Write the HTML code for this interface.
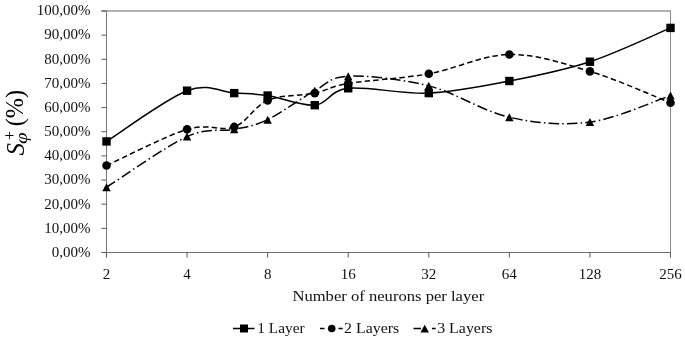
<!DOCTYPE html>
<html><head><meta charset="utf-8"><style>
html,body{margin:0;padding:0;background:#fff;}
body{width:685px;height:338px;overflow:hidden;}
svg{display:block;filter:blur(0.4px);}
.t{font-family:"Liberation Serif",serif;font-size:15px;fill:#111;}
.yt{font-family:"Liberation Serif",serif;fill:#000;}
</style></head><body>
<svg width="685" height="338" viewBox="0 0 685 338">
<line x1="101.5" y1="11" x2="671.0" y2="11" stroke="#666" stroke-width="1"/>
<line x1="670.5" y1="11" x2="670.5" y2="257.5" stroke="#888" stroke-width="1"/>
<line x1="106.5" y1="11.0" x2="106.5" y2="257.5" stroke="#777" stroke-width="1"/>
<line x1="101.5" y1="252.5" x2="670.5" y2="252.5" stroke="#707070" stroke-width="1.2"/>
<line x1="101.5" y1="252.50" x2="106.5" y2="252.50" stroke="#595959" stroke-width="1"/>
<text x="90.6" y="256.80" text-anchor="end" class="t">0,00%</text>
<line x1="101.5" y1="228.35" x2="106.5" y2="228.35" stroke="#595959" stroke-width="1"/>
<text x="90.6" y="232.65" text-anchor="end" class="t">10,00%</text>
<line x1="101.5" y1="204.20" x2="106.5" y2="204.20" stroke="#595959" stroke-width="1"/>
<text x="90.6" y="208.50" text-anchor="end" class="t">20,00%</text>
<line x1="101.5" y1="180.05" x2="106.5" y2="180.05" stroke="#595959" stroke-width="1"/>
<text x="90.6" y="184.35" text-anchor="end" class="t">30,00%</text>
<line x1="101.5" y1="155.90" x2="106.5" y2="155.90" stroke="#595959" stroke-width="1"/>
<text x="90.6" y="160.20" text-anchor="end" class="t">40,00%</text>
<line x1="101.5" y1="131.75" x2="106.5" y2="131.75" stroke="#595959" stroke-width="1"/>
<text x="90.6" y="136.05" text-anchor="end" class="t">50,00%</text>
<line x1="101.5" y1="107.60" x2="106.5" y2="107.60" stroke="#595959" stroke-width="1"/>
<text x="90.6" y="111.90" text-anchor="end" class="t">60,00%</text>
<line x1="101.5" y1="83.45" x2="106.5" y2="83.45" stroke="#595959" stroke-width="1"/>
<text x="90.6" y="87.75" text-anchor="end" class="t">70,00%</text>
<line x1="101.5" y1="59.30" x2="106.5" y2="59.30" stroke="#595959" stroke-width="1"/>
<text x="90.6" y="63.60" text-anchor="end" class="t">80,00%</text>
<line x1="101.5" y1="35.15" x2="106.5" y2="35.15" stroke="#595959" stroke-width="1"/>
<text x="90.6" y="39.45" text-anchor="end" class="t">90,00%</text>
<line x1="101.5" y1="11.00" x2="106.5" y2="11.00" stroke="#595959" stroke-width="1"/>
<text x="90.6" y="15.30" text-anchor="end" class="t">100,00%</text>
<line x1="106.50" y1="252.5" x2="106.50" y2="257.5" stroke="#595959" stroke-width="1"/>
<text x="106.50" y="278.8" text-anchor="middle" class="t">2</text>
<line x1="187.07" y1="252.5" x2="187.07" y2="257.5" stroke="#595959" stroke-width="1"/>
<text x="187.07" y="278.8" text-anchor="middle" class="t">4</text>
<line x1="267.64" y1="252.5" x2="267.64" y2="257.5" stroke="#595959" stroke-width="1"/>
<text x="267.64" y="278.8" text-anchor="middle" class="t">8</text>
<line x1="348.21" y1="252.5" x2="348.21" y2="257.5" stroke="#595959" stroke-width="1"/>
<text x="348.21" y="278.8" text-anchor="middle" class="t">16</text>
<line x1="428.79" y1="252.5" x2="428.79" y2="257.5" stroke="#595959" stroke-width="1"/>
<text x="428.79" y="278.8" text-anchor="middle" class="t">32</text>
<line x1="509.36" y1="252.5" x2="509.36" y2="257.5" stroke="#595959" stroke-width="1"/>
<text x="509.36" y="278.8" text-anchor="middle" class="t">64</text>
<line x1="589.93" y1="252.5" x2="589.93" y2="257.5" stroke="#595959" stroke-width="1"/>
<text x="589.93" y="278.8" text-anchor="middle" class="t">128</text>
<line x1="670.50" y1="252.5" x2="670.50" y2="257.5" stroke="#595959" stroke-width="1"/>
<text x="670.50" y="278.8" text-anchor="middle" class="t">256</text>
<text x="292.4" y="301" class="t" textLength="191.8" lengthAdjust="spacingAndGlyphs">Number of neurons per layer</text>
<path d="M106.50,141.41 C119.93,132.96 165.79,98.74 187.07,90.69 C208.36,82.64 220.77,92.31 234.20,93.11 C247.63,93.92 254.21,93.51 267.64,95.53 C281.07,97.54 301.35,106.39 314.77,105.19 C328.20,103.98 329.21,90.29 348.21,88.28 C367.22,86.27 401.93,94.32 428.79,93.11 C455.64,91.90 482.50,86.27 509.36,81.03 C536.21,75.80 563.07,70.57 589.93,61.72 C616.79,52.86 657.07,33.54 670.50,27.91" fill="none" stroke="#000" stroke-width="1.5"/>
<path d="M106.50,165.56 C119.93,159.52 165.79,135.77 187.07,129.33 C208.36,122.89 220.77,131.75 234.20,126.92 C247.63,122.09 254.21,105.99 267.64,100.35 C281.07,94.72 301.35,95.93 314.77,93.11 C328.20,90.29 329.21,86.67 348.21,83.45 C367.22,80.23 401.93,78.62 428.79,73.79 C455.64,68.96 482.50,54.87 509.36,54.47 C536.21,54.07 563.07,63.33 589.93,71.38 C616.79,79.42 657.07,97.54 670.50,102.77" fill="none" stroke="#000" stroke-width="1.5" stroke-dasharray="5.5 3.2"/>
<path d="M106.50,187.30 C119.93,178.84 165.79,146.24 187.07,136.58 C208.36,126.92 220.77,132.15 234.20,129.33 C247.63,126.52 254.21,126.12 267.64,119.68 C281.07,113.24 301.35,97.94 314.77,90.69 C328.20,83.45 329.21,77.01 348.21,76.21 C367.22,75.40 401.93,79.02 428.79,85.87 C455.64,92.71 482.50,111.22 509.36,117.26 C536.21,123.30 563.07,125.71 589.93,122.09 C616.79,118.47 657.07,99.95 670.50,95.53" fill="none" stroke="#000" stroke-width="1.5" stroke-dasharray="10.5 3.2 1.5 3.2"/>
<rect x="102.30" y="137.21" width="8.4" height="8.4" fill="#000"/>
<rect x="182.87" y="86.49" width="8.4" height="8.4" fill="#000"/>
<rect x="230.00" y="88.91" width="8.4" height="8.4" fill="#000"/>
<rect x="263.44" y="91.33" width="8.4" height="8.4" fill="#000"/>
<rect x="310.57" y="100.98" width="8.4" height="8.4" fill="#000"/>
<rect x="344.01" y="84.08" width="8.4" height="8.4" fill="#000"/>
<rect x="424.59" y="88.91" width="8.4" height="8.4" fill="#000"/>
<rect x="505.16" y="76.83" width="8.4" height="8.4" fill="#000"/>
<rect x="585.73" y="57.52" width="8.4" height="8.4" fill="#000"/>
<rect x="666.30" y="23.71" width="8.4" height="8.4" fill="#000"/>
<circle cx="106.50" cy="165.56" r="4.3" fill="#000"/>
<circle cx="187.07" cy="129.33" r="4.3" fill="#000"/>
<circle cx="234.20" cy="126.92" r="4.3" fill="#000"/>
<circle cx="267.64" cy="100.35" r="4.3" fill="#000"/>
<circle cx="314.77" cy="93.11" r="4.3" fill="#000"/>
<circle cx="348.21" cy="83.45" r="4.3" fill="#000"/>
<circle cx="428.79" cy="73.79" r="4.3" fill="#000"/>
<circle cx="509.36" cy="54.47" r="4.3" fill="#000"/>
<circle cx="589.93" cy="71.38" r="4.3" fill="#000"/>
<circle cx="670.50" cy="102.77" r="4.3" fill="#000"/>
<path d="M106.50,183.30 L110.70,191.30 L102.30,191.30 Z" fill="#000"/>
<path d="M187.07,132.58 L191.27,140.58 L182.87,140.58 Z" fill="#000"/>
<path d="M234.20,125.33 L238.40,133.33 L230.00,133.33 Z" fill="#000"/>
<path d="M267.64,115.68 L271.84,123.68 L263.44,123.68 Z" fill="#000"/>
<path d="M314.77,86.69 L318.97,94.69 L310.57,94.69 Z" fill="#000"/>
<path d="M348.21,72.21 L352.41,80.21 L344.01,80.21 Z" fill="#000"/>
<path d="M428.79,81.87 L432.99,89.87 L424.59,89.87 Z" fill="#000"/>
<path d="M509.36,113.26 L513.56,121.26 L505.16,121.26 Z" fill="#000"/>
<path d="M589.93,118.09 L594.13,126.09 L585.73,126.09 Z" fill="#000"/>
<path d="M670.50,91.53 L674.70,99.53 L666.30,99.53 Z" fill="#000"/>
<line x1="233" y1="328.5" x2="254.5" y2="328.5" stroke="#000" stroke-width="1.5"/>
<rect x="240" y="324.5" width="8" height="8" fill="#000"/>
<text x="257.3" y="333" class="t" textLength="47.3" lengthAdjust="spacingAndGlyphs">1 Layer</text>
<line x1="320" y1="328.5" x2="324.5" y2="328.5" stroke="#000" stroke-width="1.5"/>
<circle cx="331.7" cy="328.5" r="3.8" fill="#000"/>
<line x1="338.5" y1="328.5" x2="342.7" y2="328.5" stroke="#000" stroke-width="1.5"/>
<text x="344" y="333" class="t" textLength="55.2" lengthAdjust="spacingAndGlyphs">2 Layers</text>
<line x1="413.5" y1="328.5" x2="421" y2="328.5" stroke="#000" stroke-width="1.5"/>
<path d="M424.7,324.8 L429,332.5 L420.4,332.5 Z" fill="#000"/>
<line x1="432" y1="328.5" x2="435.7" y2="328.5" stroke="#000" stroke-width="1.5"/>
<text x="437.2" y="333" class="t" textLength="55.2" lengthAdjust="spacingAndGlyphs">3 Layers</text>
<g transform="translate(24,155.6) rotate(-90)"><text x="0" y="0" class="yt" font-style="italic" style="font-size:25px" textLength="12.5" lengthAdjust="spacingAndGlyphs">S</text><text x="15.5" y="-9.1" class="yt" style="font-size:16px">+</text><text x="11.7" y="2.9" class="yt" font-style="italic" style="font-size:16px" textLength="11.5" lengthAdjust="spacingAndGlyphs">φ</text><text x="29.25" y="-1.35" class="yt" style="font-size:24.5px" textLength="36.5" lengthAdjust="spacingAndGlyphs">(%)</text></g>
</svg>
</body></html>
